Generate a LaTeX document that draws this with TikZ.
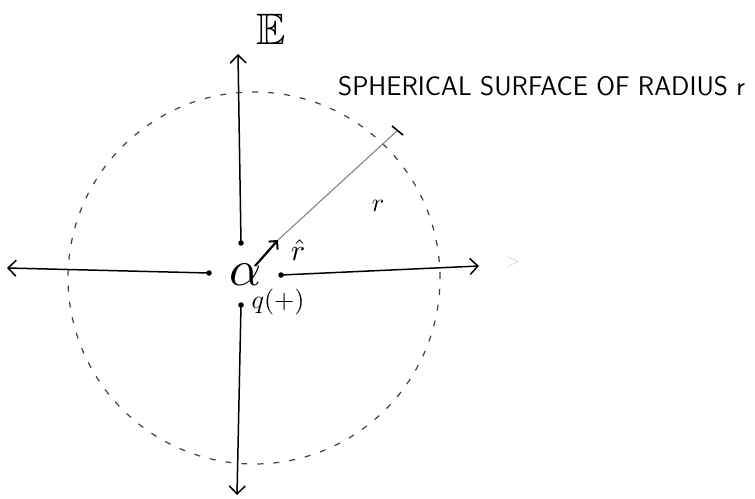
\documentclass[tikz,border=0pt]{standalone}
\usepackage{amssymb}
\usetikzlibrary{arrows.meta,calc}
\begin{document}
\begin{tikzpicture}[x=1pt,y=-1pt,
  field/.style={line width=1.5pt, -{Straight Barb[length=8pt,width=16pt,line width=1.5pt]}},
  startdot/.style={circle,fill,inner sep=0pt,minimum size=5.5pt},
  hand/.style={font=\sffamily\fontsize{27}{27}\selectfont},
  lbl/.style={inner sep=0pt}]
\useasboundingbox (0,0) rectangle (755,498);
% dashed spherical surface
\draw[dash pattern=on 6pt off 10pt, line width=1.2pt, black!75] (254,278) circle[radius=186pt];
% charge
\node[lbl, scale=5] (q) at (246,275) {$\alpha$};
% field arrows
\node[startdot] (du) at (241,243) {};
\node[startdot] (dl) at (209,273) {};
\node[startdot] (dr) at (281,275) {};
\node[startdot] (dd) at (241,305) {};
\coordinate (tu) at (238,54);
\coordinate (tl) at (7,268);
\coordinate (tr) at (479,266);
\coordinate (td) at (237,495);
\draw[field] (du.center) -- (tu);
\draw[field] (dl.center) -- (tl);
\draw[field] (dr.center) -- (tr);
\draw[field] (dd.center) -- (td);
% unit vector and radius
\coordinate (rs) at (255,266);
\coordinate (re) at (278,240);
\draw[line width=2.2pt, -{Straight Barb[length=6pt,width=12pt,line width=2pt]}] (rs) -- (re);
\coordinate (rt) at (398,130);
\draw[black!45, line width=1.2pt] (re) -- (rt);
\draw[line width=1.6pt] ($(rt)+(-6,-4)$) -- ($(rt)+(5,5)$);
% labels
\node[lbl, scale=4.4] (E) at (271,29) {$\mathbb{E}$};
\node[lbl, scale=2.6] (rl) at (378,206) {$r$};
\node[lbl, scale=3] (rh) at (298,250) {$\hat{r}$};
\node[lbl, scale=2.6, anchor=west] (ql) at (251,302) {$q(+)$};
\node[lbl, hand, anchor=west] (sl) at (338,86) {SPHERICAL SURFACE OF RADIUS r};
\node[lbl, black!20, scale=1.8] (stray) at (513,262) {$>$};
\end{tikzpicture}
\end{document}
